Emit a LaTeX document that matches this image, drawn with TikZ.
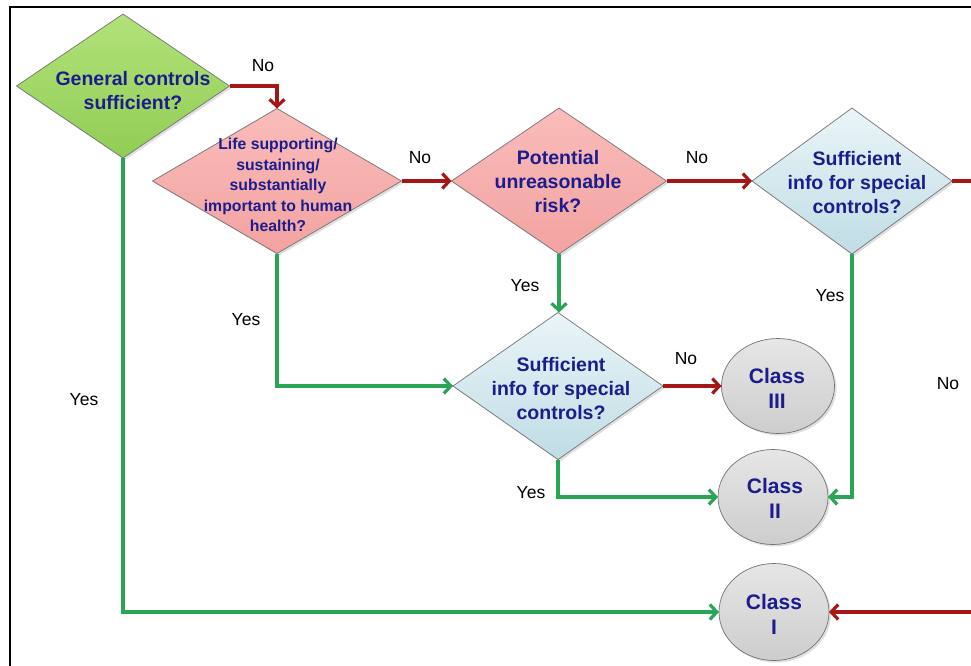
\documentclass[tikz,border=0pt]{standalone}
\usepackage{fontspec}
\setmainfont{Liberation Sans}
\usetikzlibrary{shapes.geometric,arrows.meta,shadows}
\definecolor{navy}{RGB}{28,28,140}
\definecolor{nored}{RGB}{165,22,22}
\definecolor{yesgreen}{RGB}{42,165,85}
\definecolor{greenA}{RGB}{178,226,122}
\definecolor{greenB}{RGB}{145,205,85}
\definecolor{pinkA}{RGB}{249,188,186}
\definecolor{pinkB}{RGB}{242,163,161}
\definecolor{blueA}{RGB}{234,245,248}
\definecolor{blueB}{RGB}{192,220,229}
\definecolor{greyA}{RGB}{230,230,230}
\definecolor{greyB}{RGB}{205,205,205}
\begin{document}
\begin{tikzpicture}[x=1pt,y=-1pt,
  shape base/.style={inner sep=0pt, outer sep=0pt, draw=black!55, line width=0.7pt,
    drop shadow={shadow xshift=2pt, shadow yshift=-2pt, opacity=0.25}},
  dia/.style={shape base, diamond},
  greendia/.style={dia, top color=greenA, bottom color=greenB},
  pinkdia/.style={dia, top color=pinkA, bottom color=pinkB},
  bluedia/.style={dia, top color=blueA, bottom color=blueB},
  classnode/.style={shape base, ellipse, top color=greyA, bottom color=greyB},
  bigtxt/.style={text=navy, align=center, font=\bfseries\fontsize{19.5}{24}\selectfont},
  smalltxt/.style={text=navy, align=center, font=\bfseries\fontsize{15.8}{20.5}\selectfont},
  classtxt/.style={text=navy, align=center, font=\bfseries\fontsize{21}{25}\selectfont},
  lbl/.style={text=black, font=\fontsize{17.5}{20}\selectfont, inner sep=1pt},
  noline/.style={draw=nored, line width=3.2pt, -{Straight Barb[length=7pt,width=15pt]}},
  yesline/.style={draw=yesgreen, line width=3.2pt, -{Straight Barb[length=7pt,width=15pt]}}
]
\useasboundingbox (0,0) rectangle (971,665);
\clip (0,0) rectangle (971,665);
\fill[white] (0,0) rectangle (971,665);
\draw[line width=2pt, black] (10,670) -- (10,7) -- (975,7);

% decision shapes
\node[greendia, minimum width=213, minimum height=144] (d1) at (123,86) {};
\node[pinkdia, minimum width=249, minimum height=145] (d2) at (277,181) {};
\node[pinkdia, minimum width=215, minimum height=146] (d3) at (559,181) {};
\node[bluedia, minimum width=200, minimum height=146] (d4) at (852,181) {};
\node[bluedia, minimum width=210, minimum height=147] (d5) at (558,386) {};

% outcome shapes
\node[classnode, minimum width=113, minimum height=95] (c3) at (778,386) {};
\node[classnode, minimum width=110, minimum height=95] (c2) at (773,497) {};
\node[classnode, minimum width=110, minimum height=97] (c1) at (774,612) {};

% texts
\node[bigtxt] (t1) at (133,91) {General controls\\sufficient?};
\node[smalltxt] (t2) at (278,185) {Life supporting/\\sustaining/\\substantially\\important to human\\health?};
\node[bigtxt] (t3) at (558,182) {Potential\\unreasonable\\risk?};
\node[bigtxt] (t4) at (857,183) {Sufficient\\info for special\\controls?};
\node[bigtxt] (t5) at (561,389) {Sufficient\\info for special\\controls?};
\node[classtxt] (tc3) at (777,388) {Class\\III};
\node[classtxt] (tc2) at (775,498) {Class\\II};
\node[classtxt] (tc1) at (774,614) {Class\\I};

% connectors
\draw[noline] (d1.east) -| (d2.north);
\draw[noline] (d2.east) -- (d3.west);
\draw[noline] (d3.east) -- (d4.west);
\draw[noline] (d4.east) -- ++(45,0) |- (c1.east);
\draw[yesline] (d3.south) -- (d3.south |- d5.north);
\draw[yesline] (d2.south) |- (d5.west);
\draw[noline] (d5.east) -- (c3.west);
\draw[yesline] (d5.south) |- (c2.west);
\draw[yesline] (d4.south) |- (c2.east);
\draw[yesline] (d1.south) |- (c1.west);

% labels
\node[lbl] (l1) at (263,66) {No};
\node[lbl] (l2) at (420,158) {No};
\node[lbl] (l3) at (697,158) {No};
\node[lbl] (l4) at (525,286) {Yes};
\node[lbl] (l5) at (246,320) {Yes};
\node[lbl] (l6) at (686,359) {No};
\node[lbl] (l7) at (531,493) {Yes};
\node[lbl] (l8) at (830,296) {Yes};
\node[lbl] (l9) at (84,400) {Yes};
\node[lbl] (l10) at (948,384) {No};
\end{tikzpicture}
\end{document}
